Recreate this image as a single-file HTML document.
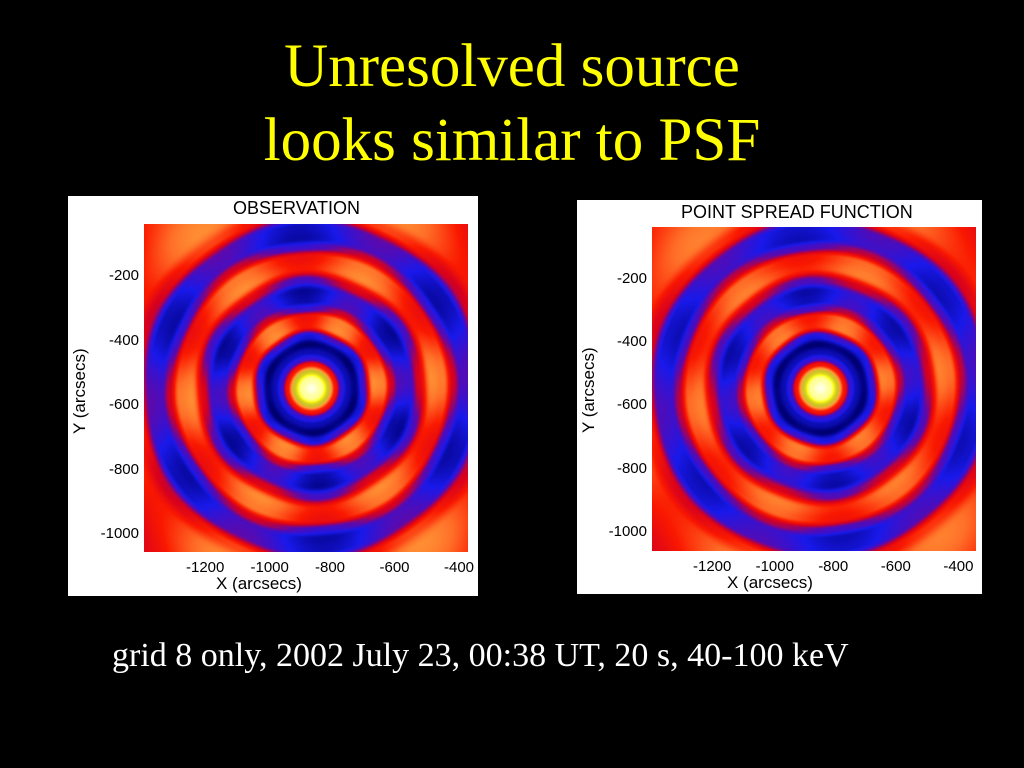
<!DOCTYPE html>
<html><head><meta charset="utf-8">
<style>
body{margin:0;background:#000;width:1024px;height:768px;overflow:hidden;position:relative;font-family:"Liberation Sans",sans-serif}
.title{position:absolute;left:0;width:1024px;text-align:center;color:#ffff00;font-family:"Liberation Serif",serif;font-size:61px;line-height:74px}
.caption{position:absolute;left:112px;top:637px;color:#fff;font-family:"Liberation Serif",serif;font-size:34px;white-space:nowrap}
.panel{position:absolute;background:#fff}
.panel canvas{position:absolute}
.ptitle{position:absolute;color:#000;font-size:18px;white-space:nowrap}
.tick{position:absolute;color:#000;font-size:15px;white-space:nowrap}
.xl{position:absolute;font-size:17px;color:#000;white-space:nowrap}
.yl{position:absolute;font-size:17px;color:#000;white-space:nowrap;transform:rotate(-90deg);transform-origin:left top}
</style></head><body>
<div class="title" style="top:30px">Unresolved source</div>
<div class="title" style="top:104px">looks similar to PSF</div>

<div class="panel" id="p1" style="left:68px;top:196px;width:410px;height:400px">
 <div class="ptitle" style="top:2px;left:165px">OBSERVATION</div>
</div>
<div class="panel" id="p2" style="left:577px;top:200px;width:405px;height:394px">
 <div class="ptitle" style="top:2px;left:104px">POINT SPREAD FUNCTION</div>
</div>
<div class="caption">grid 8 only, 2002 July 23, 00:38 UT, 20 s, 40-100 keV</div>

<script>
// radial profile (px from source, normalized intensity)
const ringRadii  = [0,10,17,24,30,36,44,52,62,72,80,88,98,108,120,132,142,150,162,175,190,240];
const ringValues = [1,0.97,0.86,0.56,0.32,0.22,0.15,0.3,0.65,0.63,0.4,0.28,0.26,0.42,0.65,0.62,0.4,0.28,0.3,0.55,0.65,0.55];
// angular modulation (6-fold lobes)
const lobeAmp = [0.08, 0.06];
const lobePhase = [0.5, 0.9];
const xTicks = [-1200,-1000,-800,-600,-400];
const yTicks = [-200,-400,-600,-800,-1000];
const cmapStops = [0,0.15,0.28,0.38,0.48,0.58,0.68,0.77,0.85,0.92,1];
const cmapColors = [[0,0,0],[0,0,120],[25,25,235],[90,10,175],[215,0,30],[250,25,0],[255,110,40],[255,165,60],[200,190,40],[255,255,20],[255,255,235]];

function cmap(v){v=Math.max(0,Math.min(1,v));
 for(let i=1;i<cmapStops.length;i++){if(v<=cmapStops[i]){const t=(v-cmapStops[i-1])/(cmapStops[i]-cmapStops[i-1]);const a=cmapColors[i-1],b=cmapColors[i];return [a[0]+(b[0]-a[0])*t,a[1]+(b[1]-a[1])*t,a[2]+(b[2]-a[2])*t];}}
 return cmapColors[cmapColors.length-1];}
function profile(r){for(let i=1;i<ringRadii.length;i++){if(r<=ringRadii[i]){const t=(r-ringRadii[i-1])/(ringRadii[i]-ringRadii[i-1]);const s=(1-Math.cos(Math.PI*t))/2;return ringValues[i-1]+(ringValues[i]-ringValues[i-1])*s;}}return ringValues[ringValues.length-1];}

function build(panel,cfg,idx){
 const c=document.createElement('canvas');
 
 
 c.width=cfg.w;c.height=cfg.h;c.style.left=cfg.px+'px';c.style.top=cfg.py+'px';
 panel.appendChild(c);
 const ctx=c.getContext('2d');const img=ctx.createImageData(cfg.w,cfg.h);
 for(let y=0;y<cfg.h;y++)for(let x=0;x<cfg.w;x++){
  const dx=x-cfg.cx,dy=y-cfg.cy,r=Math.hypot(dx,dy),th=Math.atan2(dy,dx);
  let v=profile(r);
  if(r>40){const w=Math.min(1,(r-40)/20);v+=w*lobeAmp[idx]*Math.cos(6*th+lobePhase[idx]);}
  const col=cmap(v);const k=(y*cfg.w+x)*4;
  img.data[k]=col[0];img.data[k+1]=col[1];img.data[k+2]=col[2];img.data[k+3]=255;}
 ctx.putImageData(img,0,0);
 const sx=v=>cfg.x0+(v-(-1200))*cfg.kx;
 const sy=v=>cfg.y0+(-(v-(-200)))*cfg.ky;
 xTicks.forEach(t=>{const d=document.createElement('div');d.className='tick';
  
  
  d.textContent=t;d.style.top=(cfg.py+cfg.h+7)+'px';d.style.left=(sx(t)-19)+'px';panel.appendChild(d);});
 yTicks.forEach(t=>{const d=document.createElement('div');d.className='tick';
  
  
  d.textContent=t;d.style.top=(sy(t)-9)+'px';d.style.right=(cfg.W-cfg.px+5)+'px';panel.appendChild(d);});
 const xl=document.createElement('div');xl.className='xl';
 
 
 xl.textContent='X (arcsecs)';xl.style.left=cfg.xlx+'px';xl.style.top=(cfg.py+cfg.h+22)+'px';panel.appendChild(xl);
 const yl=document.createElement('div');yl.className='yl';
 
 
 yl.textContent='Y (arcsecs)';yl.style.left='2px';yl.style.top=cfg.yly+'px';panel.appendChild(yl);
}
build(document.getElementById('p1'),{W:410,px:76,py:28,w:324,h:328,cx:167,cy:164,x0:137,kx:0.3225,y0:80,ky:0.3225,xlx:148,yly:238},0);
build(document.getElementById('p2'),{W:405,px:75,py:27,w:324,h:324,cx:168,cy:161,x0:135,kx:0.313,y0:79,ky:0.316,xlx:150,yly:233},1);
</script>
</body></html>
